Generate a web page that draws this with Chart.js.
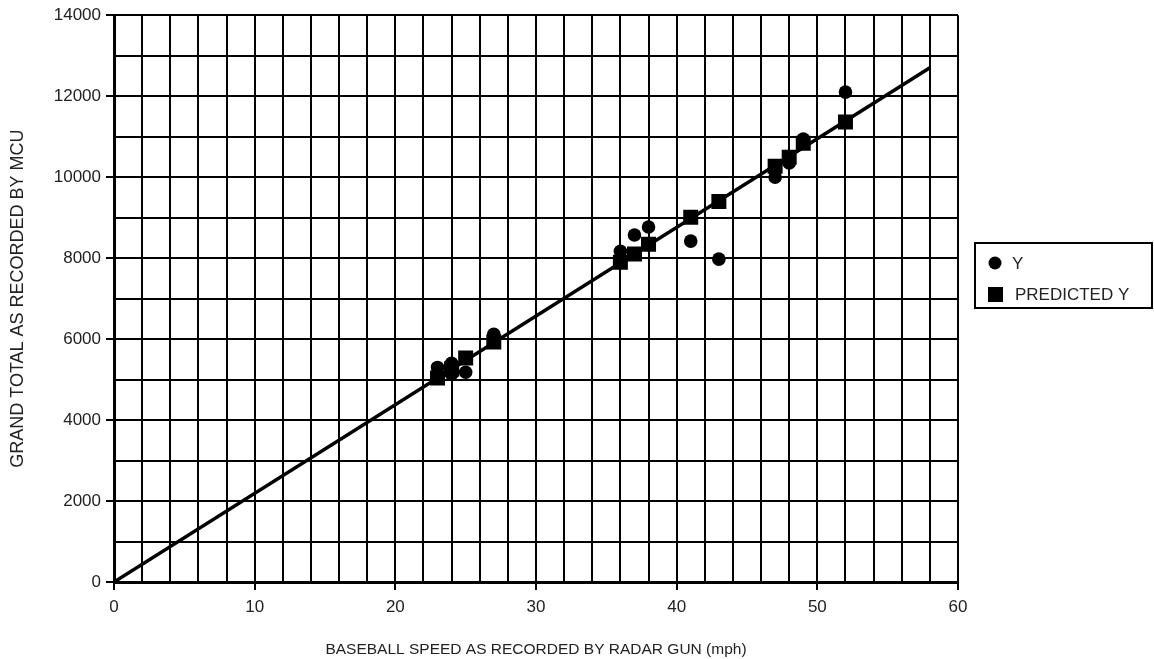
<!DOCTYPE html>
<html>
<head>
<meta charset="utf-8">
<script src="https://cdn.jsdelivr.net/npm/chart.js@4/dist/chart.umd.min.js"></script>
<style>
  html, body { margin: 0; padding: 0; background: #fff; }
  #wrap { width: 1154px; height: 659px; }
</style>
</head>
<body>
<div id="wrap"><canvas id="grafico"></canvas></div>
<script>
// === Dados ===
const velocidade = [23, 24, 24, 25, 27, 36, 37, 38, 41, 43, 47, 48, 49, 52];
const totalY = [5300, 5400, 5130, 5180, 6120, 8170, 8570, 8770, 8420, 7975, 10000, 10350, 10940, 12100];
const previstoY = [5040, 5260, 5260, 5530, 5930, 7900, 8100, 8340, 9010, 9400, 10270, 10490, 10840, 11360];
const retaX = [0, 58];
const retaY = [0, 12700];
const ticksX = [0, 10, 20, 30, 40, 50, 60];
const ticksY = [0, 2000, 4000, 6000, 8000, 10000, 12000, 14000];

const FONTE = "'Liberation Sans', Arial, sans-serif";

// === Legenda desenhada a mao ===
const legendaCaixa = {
  id: 'legendaCaixa',
  afterDraw(chart) {
    const ctx = chart.ctx;
    ctx.save();
    ctx.strokeStyle = '#000';
    ctx.lineWidth = 2;
    ctx.strokeRect(975, 243, 177, 65);
    ctx.font = '17px ' + FONTE;
    ctx.textBaseline = 'middle';
    const itens = chart.data.datasets.filter(d => d.label);
    itens.forEach((d, i) => {
      const y = 263 + i * 31;
      ctx.fillStyle = '#000';
      if (d.pointStyle === 'rect') {
        ctx.fillRect(988, y - 7, 15, 15);
      } else {
        ctx.beginPath();
        ctx.arc(995, y, 6.5, 0, Math.PI * 2);
        ctx.fill();
      }
      ctx.fillStyle = '#222';
      ctx.fillText(d.label, i === 0 ? 1012 : 1015, y + 1);
    });
    ctx.restore();
  }
};

function pontos(xs, ys) {
  return xs.map((x, i) => ({ x: x, y: ys[i] }));
}

const ctx = document.getElementById('grafico').getContext('2d');
new Chart(ctx, {
  type: 'scatter',
  data: {
    datasets: [
      {
        label: 'Y',
        data: pontos(velocidade, totalY),
        pointStyle: 'circle',
        pointRadius: 6.8,
        backgroundColor: '#000',
        borderColor: '#000',
        borderWidth: 0,
        order: 2
      },
      {
        label: 'PREDICTED Y',
        data: pontos(velocidade, previstoY),
        pointStyle: 'rect',
        pointRadius: 10.6,
        backgroundColor: '#000',
        borderColor: '#000',
        borderWidth: 0,
        order: 1
      },
      {
        type: 'line',
        data: pontos(retaX, retaY),
        showLine: true,
        borderColor: '#000',
        borderWidth: 3.5,
        pointRadius: 0,
        fill: false,
        order: 3
      }
    ]
  },
  options: {
    responsive: true,
    maintainAspectRatio: false,
    animation: false,
    events: [],
    layout: { padding: { top: 15, right: 196, left: 0, bottom: 0 } },
    plugins: {
      legend: { display: false },
      tooltip: { enabled: false }
    },
    scales: {
      x: {
        type: 'linear',
        min: 0,
        max: 60,
        afterFit: s => { s.height = 77; },
        ticks: {
          stepSize: 2,
          autoSkip: false,
          maxRotation: 0,
          padding: 7,
          color: '#222',
          font: { family: FONTE, size: 17 },
          callback: v => ticksX.includes(v) ? String(v) : ''
        },
        grid: {
          color: '#000',
          lineWidth: 2,
          tickLength: 8,
          tickWidth: 2,
          tickColor: c => (c.tick && ticksX.includes(c.tick.value)) ? '#000' : 'rgba(0,0,0,0)'
        },
        border: { display: true, color: '#000', width: 3 },
        title: {
          display: true,
          text: 'BASEBALL SPEED AS RECORDED BY RADAR GUN (mph)',
          color: '#222',
          font: { family: FONTE, size: 15.5 },
          padding: { top: 5, bottom: 0 }
        }
      },
      y: {
        min: 0,
        max: 14000,
        afterFit: s => { s.width = 114; },
        ticks: {
          stepSize: 1000,
          autoSkip: false,
          padding: 5,
          color: '#222',
          font: { family: FONTE, size: 17 },
          callback: v => ticksY.includes(v) ? String(v) : ''
        },
        grid: {
          color: '#000',
          lineWidth: 2,
          tickLength: 8,
          tickWidth: 2,
          tickColor: c => (c.tick && ticksY.includes(c.tick.value)) ? '#000' : 'rgba(0,0,0,0)'
        },
        border: { display: true, color: '#000', width: 3 },
        title: {
          display: true,
          text: 'GRAND TOTAL AS RECORDED BY MCU',
          color: '#222',
          font: { family: FONTE, size: 18 },
          padding: { top: 7, bottom: 0 }
        }
      }
    }
  },
  plugins: [legendaCaixa]
});
</script>
</body>
</html>
